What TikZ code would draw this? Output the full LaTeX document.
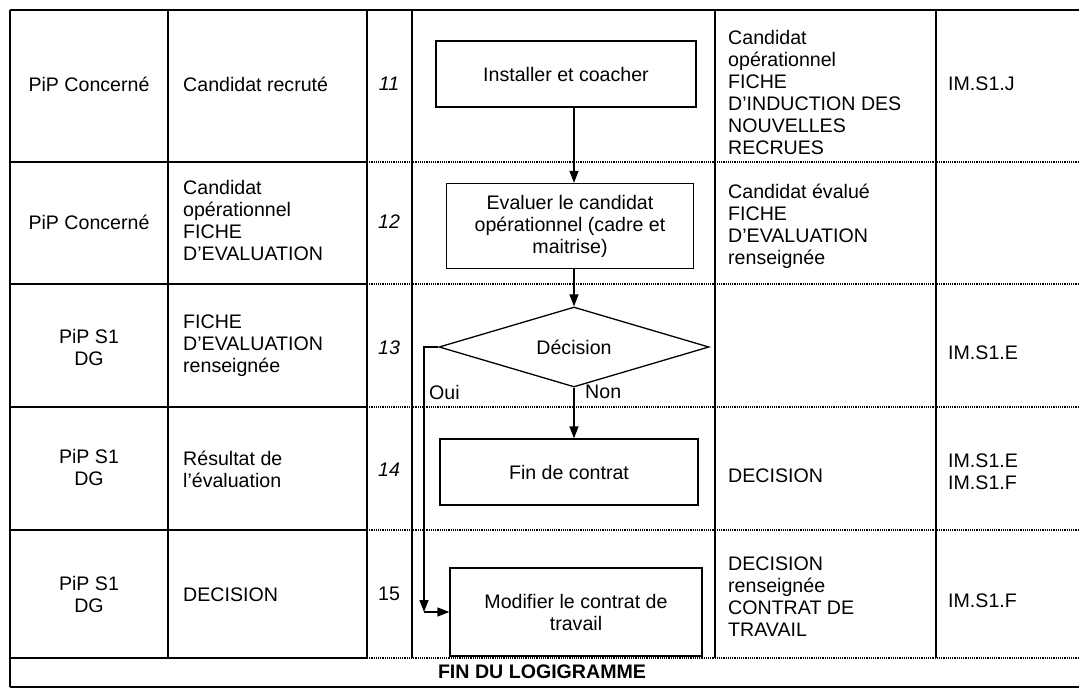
\documentclass[tikz,border=0pt]{standalone}
\usepackage{fontspec}
\setmainfont{Liberation Sans}
\usetikzlibrary{shapes.geometric,arrows.meta}
\begin{document}
\begin{tikzpicture}[x=1pt,y=-1pt,
  solidline/.style={line width=1.3pt},
  softline/.style={line width=1.2pt, densely dotted},
  txt/.style={inner sep=0pt, font=\fontsize{19.6}{22}\selectfont},
  lcell/.style={txt, align=left, anchor=west},
  ccell/.style={txt, align=center},
  flowbox/.style={draw, line width=1.3pt, inner sep=0pt, align=center, font=\fontsize{19.6}{22}\selectfont},
  arr/.style={line width=1.3pt, -{Triangle[length=12pt,width=9pt]}}
]
\useasboundingbox (0,0) rectangle (1079,690);

% ---- table grid ----
\draw[solidline] (10,10) -- (1079,10);
\foreach \y in {162,284,407,530,658} {
  \draw[solidline] (10,\y) -- (367,\y);
  \draw[softline] (367,\y) -- (1079,\y);
}
\draw[solidline] (10,687) -- (1079,687);
\draw[solidline] (10,10) -- (10,687);
\foreach \x in {168,367,412,715,936} {
  \draw[solidline] (\x,10) -- (\x,658);
}

% ---- row 11 ----
\node[ccell] (r11a) at (89,84) {PiP Concerné};
\node[lcell] (r11b) at (183,84) {Candidat recruté};
\node[ccell] (r11n) at (389,84) {\itshape 11};
\node[lcell] (r11e) at (728,92) {Candidat\\opérationnel\\FICHE\\D’INDUCTION DES\\NOUVELLES\\RECRUES};
\node[lcell] (r11f) at (948,84) {IM.S1.J};

% ---- row 12 ----
\node[ccell] (r12a) at (89,222) {PiP Concerné};
\node[lcell] (r12b) at (183,220) {Candidat\\opérationnel\\FICHE\\D’EVALUATION};
\node[ccell] (r12n) at (389,222) {\itshape 12};
\node[lcell] (r12e) at (728,226) {Candidat évalué\\FICHE\\D’EVALUATION\\renseignée};

% ---- row 13 ----
\node[ccell] (r13a) at (89,347) {PiP S1\\DG};
\node[lcell] (r13b) at (183,346) {FICHE\\D’EVALUATION\\renseignée};
\node[ccell] (r13n) at (389,348) {\itshape 13};
\node[lcell] (r13f) at (948,353) {IM.S1.E};

% ---- row 14 ----
\node[ccell] (r14a) at (89,467) {PiP S1\\DG};
\node[lcell] (r14b) at (183,469) {Résultat de\\l’évaluation};
\node[ccell] (r14n) at (389,470) {\itshape 14};
\node[lcell] (r14e) at (728,476) {DECISION};
\node[lcell] (r14f) at (948,472) {IM.S1.E\\IM.S1.F};

% ---- row 15 ----
\node[ccell] (r15a) at (89,594) {PiP S1\\DG};
\node[lcell] (r15b) at (183,595) {DECISION};
\node[ccell] (r15n) at (389,594) {15};
\node[lcell] (r15e) at (728,597) {DECISION\\renseignée\\CONTRAT DE\\TRAVAIL};
\node[lcell] (r15f) at (948,601) {IM.S1.F};

% ---- last row ----
\node[txt, font=\fontsize{19.6}{22}\selectfont\bfseries] (fin) at (542,672) {FIN DU LOGIGRAMME};

% ---- flow ----
\node[flowbox, minimum width=260pt, minimum height=66pt] (b11) at (566,74) {Installer et coacher};
\node[flowbox, minimum width=247pt, minimum height=85pt] (b12) at (570,226) {Evaluer le candidat\\opérationnel (cadre et\\maitrise)};
\node[draw, line width=1.3pt, shape=diamond, aspect=3.4, inner sep=0pt,
      minimum width=270pt, minimum height=80pt, font=\fontsize{19.6}{22}\selectfont] (d) at (574,347) {Décision};
\node[flowbox, minimum width=258pt, minimum height=66pt] (b14) at (569,472) {Fin de contrat};
\node[flowbox, minimum width=252pt, minimum height=88pt] (b15) at (576,612) {Modifier le contrat de\\travail};

\coordinate (ax) at (574,0);
\coordinate (ouix) at (424,0);

\draw[arr] (b11.south -| ax) -- (b12.north -| ax);
\draw[arr] (b12.south -| ax) -- (d.north);
\draw[arr] (d.south) -- (b14.north -| ax);
\draw[arr] (d.west) -- (d.west -| ouix) -- (ouix |- b15.west);
\draw[arr] (ouix |- b15.west) -- (b15.west);

\node[txt, anchor=west] (oui) at (429,392) {Oui};
\node[txt, anchor=west] (non) at (585,392) {Non};
\end{tikzpicture}
\end{document}
